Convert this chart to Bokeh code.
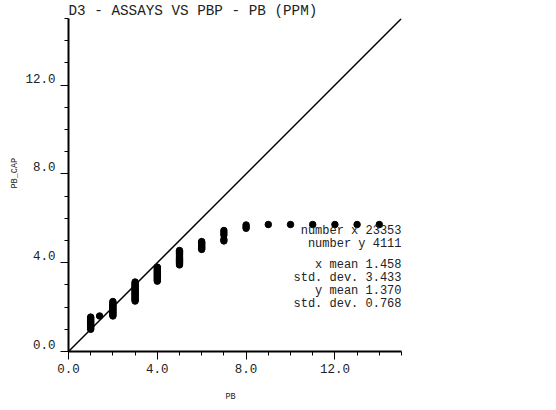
import math
from bokeh.plotting import figure
from bokeh.models import FixedTicker, Label, Range1d, Title
from bokeh.embed import file_html
from bokeh.resources import INLINE

# ---- data ----
title_text = "D3 - ASSAYS VS PBP - PB (PPM)"
x_label = "PB"
y_label = "PB_CAP"
x_ticks = [0, 4, 8, 12]
y_ticks = [0, 4, 8, 12]
tick_text = ["0.0", "4.0", "8.0", "12.0"]

pb_x = [1, 1, 1, 1, 1, 1, 1, 1, 1, 1, 1, 1,
        1.4,
        2, 2, 2, 2, 2, 2, 2, 2, 2, 2, 2, 2, 2, 2,
        3, 3, 3, 3, 3, 3, 3, 3, 3, 3, 3, 3, 3, 3, 3, 3, 3, 3,
        4, 4, 4, 4, 4, 4, 4, 4, 4, 4, 4, 4, 4, 4,
        5, 5, 5, 5, 5, 5, 5, 5, 5, 5, 5, 5, 5, 5,
        6, 6, 6, 6, 6, 6, 6, 6,
        7, 7, 7, 7, 7,
        8, 8, 8,
        9, 10, 11, 12, 13, 14]
pb_cap_y = [1.0, 1.05, 1.1, 1.15, 1.2, 1.25, 1.3, 1.35, 1.4, 1.45, 1.5, 1.55,
            1.6,
            1.6, 1.65, 1.7, 1.75, 1.8, 1.85, 1.9, 1.95, 2.0, 2.05, 2.1, 2.15, 2.2, 2.25,
            2.27, 2.32, 2.37, 2.42, 2.47, 2.52, 2.57, 2.62, 2.67, 2.72, 2.77, 2.82, 2.87, 2.92, 2.97, 3.02, 3.07, 3.13,
            3.17, 3.22, 3.27, 3.32, 3.37, 3.42, 3.47, 3.52, 3.57, 3.62, 3.67, 3.72, 3.77, 3.8,
            3.9, 3.95, 4.0, 4.05, 4.1, 4.15, 4.2, 4.25, 4.3, 4.35, 4.4, 4.45, 4.5, 4.55,
            4.6, 4.65, 4.7, 4.75, 4.8, 4.85, 4.9, 4.95,
            4.98, 5.05, 5.25, 5.35, 5.45,
            5.55, 5.62, 5.7,
            5.72, 5.72, 5.72, 5.72, 5.72, 5.72]
diag_x = [0, 15]
diag_y = [0, 15]
stats_lines = ["number x 23353", "number y 4111",
               "x mean 1.458", "std. dev. 3.433",
               "y mean 1.370", "std. dev. 0.768"]
stats_offsets = [121, 108, 87, 74, 61, 48]

FONT = "Liberation Mono"

p = figure(output_backend="svg", toolbar_location=None,
           frame_width=333, frame_height=333,
           x_range=Range1d(0, 15), y_range=Range1d(0, 15),
           min_border_left=68, min_border_top=17,
           min_border_right=139, min_border_bottom=56,
           background_fill_color="white", border_fill_color="white")
p.outline_line_color = None
p.xgrid.visible = False
p.ygrid.visible = False

p.title = Title(text=title_text, align="left", text_font=FONT, text_font_size="14.3px",
                text_font_style="normal", text_color="#222222", standoff=0, offset=0)

for ax in (p.xaxis[0], p.yaxis[0]):
    ax.ticker = FixedTicker(ticks=x_ticks, minor_ticks=list(range(0, 16)))
    ax.axis_line_width = 2
    ax.axis_line_color = "black"
    ax.major_tick_out = 8
    ax.major_tick_in = 0
    ax.minor_tick_out = 4
    ax.minor_tick_in = 0
    ax.major_tick_line_color = "black"
    ax.minor_tick_line_color = "black"
    ax.major_label_text_font = FONT
    ax.major_label_text_font_size = "12.5px"
    ax.major_label_text_color = "#222222"
    ax.major_label_standoff = 4
p.xaxis[0].major_label_overrides = dict(zip(x_ticks, tick_text))
# y labels sit just above their tick marks: an empty second line lifts them
p.yaxis[0].major_label_overrides = {t: s + "\n" for t, s in zip(y_ticks, tick_text)}
p.yaxis[0].major_label_text_line_height = 0.8
p.yaxis[0].major_label_standoff = 5

p.add_layout(Title(text=y_label, align="left", offset=163, standoff=6,
                   text_font=FONT, text_font_size="8.5px", text_font_style="normal",
                   text_color="#222222"), "left")
p.add_layout(Title(text=x_label, align="left", offset=157, standoff=29,
                   text_font=FONT, text_font_size="8.5px", text_font_style="normal",
                   text_color="#222222"), "below")

p.line(diag_x, diag_y, line_color="black", line_width=1.5)
p.scatter(pb_x, pb_cap_y, size=6.5, fill_color="black", line_color="black")

for line_text, off in zip(stats_lines, stats_offsets):
    p.add_layout(Label(x=15, y=0, y_offset=off, text=line_text,
                       text_font=FONT, text_font_size="12px", text_align="right",
                       text_baseline="middle", text_color="#222222"))

open("out.html", "w").write(file_html(p, INLINE))
